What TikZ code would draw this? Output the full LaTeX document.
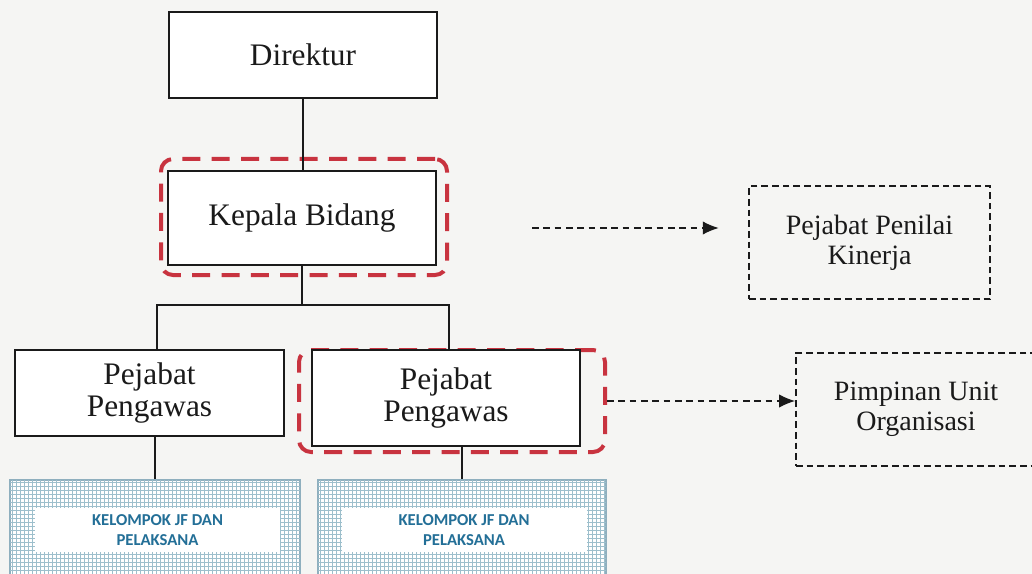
\documentclass[tikz,border=0pt]{standalone}
\usepackage{fontspec}
\setmainfont{Liberation Serif}
\newfontfamily\kelfont{Carlito}
\usetikzlibrary{arrows.meta,patterns}
\definecolor{bgc}{HTML}{F5F5F3}
\definecolor{inkc}{HTML}{1A1A1A}
\definecolor{redc}{HTML}{C8333F}
\definecolor{bluec}{HTML}{236F97}
\definecolor{gridc}{HTML}{9DBFCC}
\definecolor{gborder}{HTML}{8FAFBE}
\tikzset{
  boxs/.style={draw=inkc, line width=1.6pt, fill=white, text=inkc, align=center, inner sep=0pt,
    font=\fontsize{23.5}{23.5}\selectfont},
  redbox/.style={draw=redc, line width=3pt, rounded corners=9pt, dash pattern=on 13.5pt off 8.5pt, inner sep=0pt},
  dbox/.style={draw=inkc, line width=1.3pt, dash pattern=on 5pt off 3pt, text=inkc, align=center, inner sep=0pt,
    font=\fontsize{21}{22.5}\selectfont},
  darrow/.style={draw=inkc, line width=1.1pt, dash pattern=on 5pt off 3.5pt, -{Latex[length=12pt,width=10pt]}},
  conn/.style={draw=inkc, line width=1.6pt},
  kelbox/.style={draw=gborder, line width=0.8pt, fill=white, inner sep=0pt},
  kelin/.style={fill=white, inner sep=0pt, text=bluec, align=center, font=\kelfont\bfseries\fontsize{12.5}{15}\selectfont}
}
\begin{document}
\begin{tikzpicture}[x=0.75pt,y=-0.75pt]
\useasboundingbox[fill=bgc] (0,0) rectangle (1032,574);
% main boxes
\node[boxs, minimum width=201pt, minimum height=64.5pt] (dir) at (303,55) {Direktur};
\node[redbox, minimum width=214.5pt, minimum height=87pt] (kred) at (304,217) {};
\node[boxs, minimum width=201pt, minimum height=70.5pt] (kep) at (302,218) {Kepala Bidang};
\node[boxs, minimum width=201.75pt, minimum height=64.5pt] (pl) at (149.5,393) {Pejabat\\Pengawas};
\node[redbox, minimum width=229.5pt, minimum height=76.5pt] (pred) at (452,401) {};
\node[boxs, minimum width=201pt, minimum height=72pt] (pr) at (446,398) {Pejabat\\Pengawas};
% kelompok boxes
\node[kelbox, minimum width=217.5pt, minimum height=82.5pt] (kl) at (155,535) {};
\fill[pattern=grid, pattern color=gridc] (kl.south west) rectangle (kl.north east);
\node[kelin, minimum width=183.75pt, minimum height=33pt] (kli) at (157.5,530) {KELOMPOK JF DAN\\PELAKSANA};
\node[kelbox, minimum width=216pt, minimum height=82.5pt] (kr) at (462,535) {};
\fill[pattern=grid, pattern color=gridc] (kr.south west) rectangle (kr.north east);
\node[kelin, minimum width=183.75pt, minimum height=33pt] (kri) at (464,530) {KELOMPOK JF DAN\\PELAKSANA};
\draw[draw=gborder, line width=0.8pt] (kl.south west) rectangle (kl.north east);
\draw[draw=gborder, line width=0.8pt] (kr.south west) rectangle (kr.north east);
% dashed boxes
\node[dbox, minimum width=180.75pt, minimum height=84.75pt] (ppk) at (869.5,242.5) {Pejabat Penilai\\Kinerja};
\node[dbox, minimum width=180pt, minimum height=84.75pt] (puo) at (916,409.5) {Pimpinan Unit\\Organisasi};
% connectors
\coordinate (barL) at (157,305);
\coordinate (barR) at (449,305);
\coordinate (a1) at (532,228);
\draw[conn] (dir.south) -- (dir.south |- kep.north);
\draw[conn] (kep.south) -- (kep.south |- barL);
\draw[conn] (barL |- pl.north) -- (barL) -- (barR) -- (barR |- pr.north);
\draw[conn] (pl.south -| kl.north) -- (kl.north);
\draw[conn] (pr.south -| kr.north) -- (kr.north);
\draw[darrow] (a1) -- ([xshift=-22pt]a1 -| ppk.west);
\draw[darrow] (pred.east) -- (pred.east -| puo.west);
\end{tikzpicture}
\end{document}
